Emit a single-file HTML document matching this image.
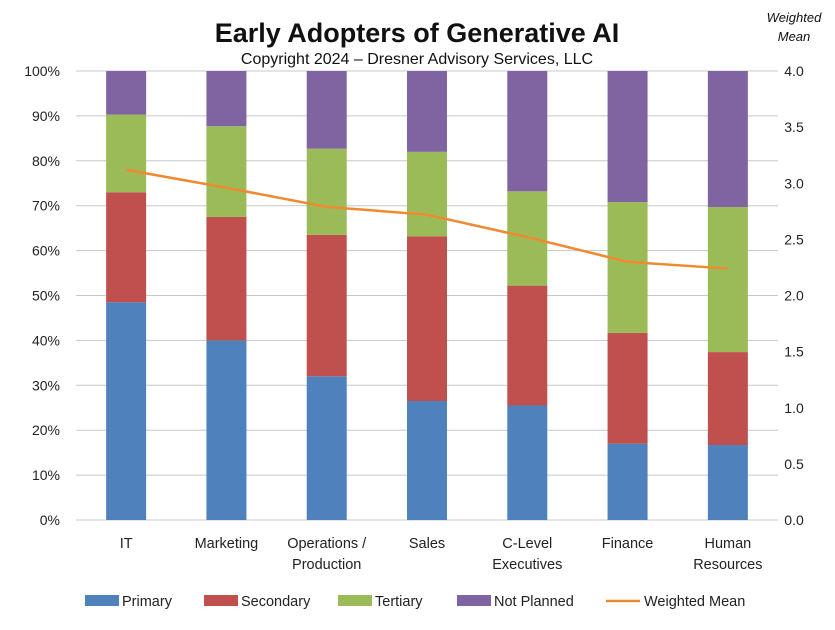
<!DOCTYPE html>
<html><head><meta charset="utf-8"><style>
body{margin:0;background:#fff;width:835px;height:625px;overflow:hidden}
svg{font-family:"Liberation Sans",sans-serif}
</style></head><body>
<svg id="c" width="835" height="625">
<text x="417" y="42" text-anchor="middle" font-size="27" font-weight="bold" fill="#111">Early Adopters of Generative AI</text>
<text x="417" y="64" text-anchor="middle" font-size="16" fill="#111">Copyright 2024 – Dresner Advisory Services, LLC</text>
<text x="794" y="22" text-anchor="middle" font-size="13" font-style="italic" fill="#111">Weighted</text>
<text x="794" y="41" text-anchor="middle" font-size="13" font-style="italic" fill="#111">Mean</text>
<g id="plot"></g>
</svg>
<script>
const categories=[["IT"],["Marketing"],["Operations /","Production"],["Sales"],["C-Level","Executives"],["Finance"],["Human","Resources"]];
const primary=[48.5,40,32,26.5,25.5,17,16.7];
const secondary=[24.5,27.5,31.5,36.7,26.7,24.7,20.7];
const tertiary=[17.3,20.2,19.2,18.8,21,29.1,32.3];
const notPlanned=[9.7,12.3,17.3,18,26.8,29.2,30.3];
const weightedMean=[3.12,2.96,2.79,2.72,2.52,2.30,2.24];
const leftTicks=[0,10,20,30,40,50,60,70,80,90,100];
const rightTicks=[0,0.5,1,1.5,2,2.5,3,3.5,4];
const NS="http://www.w3.org/2000/svg";
const g=document.getElementById('plot');
const X0=76,X1=778,Y0=520,Y1=71;
const band=(X1-X0)/categories.length;
const xC=i=>X0+band*(i+0.5);
const yL=v=>Y0-(Y0-Y1)*v/100;
const yR=v=>Y0-(Y0-Y1)*v/4;
function mk(t,a){const e=document.createElementNS(NS,t);for(const k in a)e.setAttribute(k,a[k]);g.appendChild(e);return e;}
leftTicks.forEach(t=>{
 const l=mk('line',{x1:X0,x2:X1,y1:yL(t),y2:yL(t),stroke:'#c8c8c8','stroke-width':1});
 
 
 const tx=mk('text',{x:60,y:yL(t)+5,'text-anchor':'end','font-size':14,fill:'#222'});tx.textContent=t+'%';
 
 
});
rightTicks.forEach(t=>{
 const tx=mk('text',{x:794,y:yR(t)+5,'text-anchor':'middle','font-size':14,fill:'#222'});tx.textContent=t.toFixed(1);
 
 
});
const series=[[primary,'#4f81bd','primary'],[secondary,'#c0504d','secondary'],[tertiary,'#9bbb59','tertiary'],[notPlanned,'#8064a2','not-planned']];
categories.forEach((c,i)=>{
 let base=0;
 series.forEach(([arr,col,nm])=>{
  const top=base+arr[i];
  const r=mk('rect',{x:xC(i)-20,width:40,y:yL(Math.min(top,100)),height:yL(base)-yL(Math.min(top,100)),fill:col});
  
  
  base=top;
 });
 c.forEach((ln,k)=>{
  const tx=mk('text',{x:xC(i),y:548+k*21,'text-anchor':'middle','font-size':14.5,fill:'#222'});tx.textContent=ln;
  
  
 });
});
const pl=mk('polyline',{points:weightedMean.map((v,i)=>xC(i)+','+yR(v)).join(' '),fill:'none',stroke:'#f08a30','stroke-width':2.5});


const legend=[['Primary','#4f81bd',85],['Secondary','#c0504d',204],['Tertiary','#9bbb59',338],['Not Planned','#8064a2',457]];
legend.forEach(([t,col,x])=>{
 const r=mk('rect',{x:x,y:595,width:34,height:11,fill:col});
 
 
 const tx=mk('text',{x:x+37,y:606,'font-size':14.5,fill:'#222'});tx.textContent=t;
 
 
});
const ll=mk('line',{x1:606,x2:640,y1:601,y2:601,stroke:'#f08a30','stroke-width':2.5});


const lt=mk('text',{x:644,y:606,'font-size':14.5,fill:'#222'});lt.textContent='Weighted Mean';


</script>
</body></html>
